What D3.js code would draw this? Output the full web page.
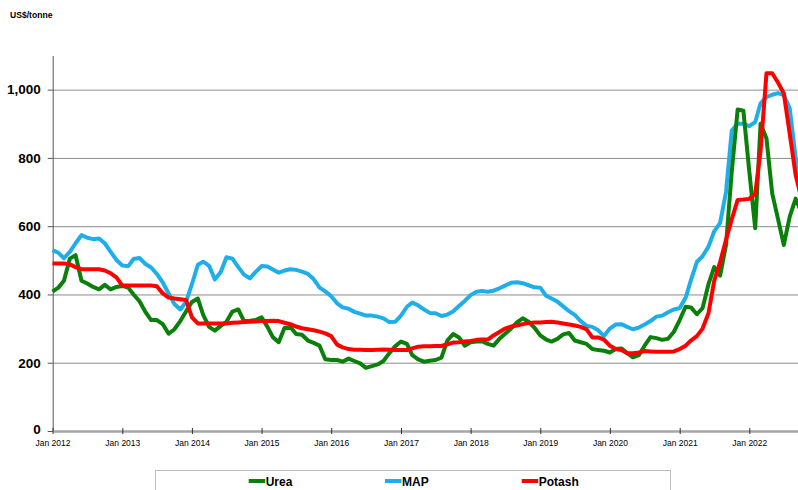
<!DOCTYPE html>
<html><head><meta charset="utf-8">
<script src="https://cdn.jsdelivr.net/npm/d3@7"></script>
<style>
body{margin:0;background:#fff;}
svg{display:block;font-family:"Liberation Sans",Arial,sans-serif;}
</style>
</head><body>
<svg id="chart" width="798" height="490"></svg>
<script>
// ---- data (monthly, starting Jan 2012) ----
const startYear = 2012;
const urea = [408,420,440,505,515,440,432,422,415,428,415,422,
  425,420,400,380,350,325,325,313,285,298,322,350,
  378,388,340,305,294,308,320,350,356,322,323,325,
  333,305,275,260,302,305,284,282,265,258,250,210,
  208,208,203,212,205,198,185,190,195,205,228,248,
  262,255,222,210,203,206,208,215,265,284,274,250,
  260,262,263,255,250,270,285,300,318,330,320,303,
  280,268,262,270,283,287,265,260,255,240,237,235,
  230,240,242,228,216,222,250,275,272,267,270,290,
  325,364,362,342,360,430,480,455,545,760,942,938,
  760,594,900,857,696,620,545,628,681,640];
const map = [530,522,506,525,550,574,566,562,564,550,525,501,
  485,483,504,507,490,479,460,435,403,372,356,378,
  430,487,496,484,444,466,509,505,480,458,447,466,
  483,482,473,464,470,474,472,467,460,445,420,409,
  395,374,362,358,349,344,338,338,335,330,319,320,
  338,364,376,368,356,346,345,337,341,350,366,381,
  398,408,410,408,411,418,426,434,436,433,427,421,
  420,396,388,379,365,351,340,322,308,305,295,278,
  300,312,313,305,298,303,312,322,335,338,348,356,
  360,390,442,495,512,540,585,610,700,880,900,900,
  893,905,960,978,985,990,984,945,800,700];
const potash = [491,491,491,488,480,474,474,474,474,470,462,450,
  426,426,426,426,426,426,424,403,391,388,386,384,
  333,315,315,315,315,315,315,317,318,319,320,321,
  322,322,323,322,317,313,306,301,298,295,291,286,
  278,253,245,240,238,238,237,237,238,239,238,237,
  237,237,242,247,248,248,249,249,254,259,260,262,
  264,267,268,268,280,290,300,306,309,313,316,318,
  318,319,320,318,315,312,309,305,298,274,274,268,
  250,240,237,228,228,230,234,233,232,232,232,233,
  240,250,265,278,300,345,440,495,560,620,677,678,
  680,695,820,1048,1048,1020,989,870,750,680];
const seriesNames = ["Urea","MAP","Potash"];
const yTicks = [0,200,400,600,800,1000];
const gridTicks = [200,400,600,800,1000];
const xTickYears = [2012,2013,2014,2015,2016,2017,2018,2019,2020,2021,2022];
const yLabel = "US$/tonne";

(function(){
const colors = {Urea:"#0a800a", MAP:"#1eaeea", Potash:"#ff0000"};
const W = 798;
const plotLeft = 52.7, plotBottom = 431, plotTop = 55.5;

const months = urea.map((_, i) => new Date(Date.UTC(startYear, i, 1)));
const x = d3.scaleUtc()
  .domain([new Date(Date.UTC(2012,0,1)), new Date(Date.UTC(2022,0,1))])
  .range([52.5, 749.3]);
const xAxisScale = x.copy().domain([x.domain()[0], x.invert(W)]).range([52.5, W]);
const y = d3.scaleLinear().domain([0,1100]).range([plotBottom, plotTop]);

const svg = d3.select("#chart");

svg.append("text").attr("x",10).attr("y",18)
  .attr("font-size","8.6px").attr("font-weight","bold").attr("fill","#000")
  .text(yLabel);

const grid = svg.append("g").attr("transform",`translate(${plotLeft},0)`)
  .call(d3.axisLeft(y).tickValues(gridTicks).tickSize(-(W-plotLeft)).tickFormat(""));
grid.select(".domain").remove();
grid.selectAll("line").attr("stroke","#8c8c8c").attr("stroke-width",1);

const ya = svg.append("g").attr("transform",`translate(${plotLeft},0)`)
  .call(d3.axisLeft(y).tickValues(yTicks).tickSize(5).tickSizeOuter(0).tickPadding(7)
    .tickFormat(d3.format(",")));
ya.select(".domain").attr("stroke","#555");
ya.selectAll("line").attr("stroke","#555");
ya.selectAll("text").attr("font-size","13.5px").attr("font-weight","bold")
  .attr("fill","#000").attr("font-family","Liberation Sans, Arial, sans-serif");
ya.selectAll(".tick").filter(d=>d===0).select("text").attr("dy","0.2em");

const line = d3.line().x((d,i)=>x(months[i])).y(d=>y(d));
const data = {Urea:urea, MAP:map, Potash:potash};
["MAP","Urea","Potash"].forEach(name=>{
  svg.append("path").datum(data[name])
    .attr("d", line).attr("fill","none")
    .attr("stroke", colors[name]).attr("stroke-width",4)
    .attr("stroke-linejoin","round").attr("stroke-linecap","butt");
});

const xa = svg.append("g").attr("transform",`translate(0,${plotBottom})`)
  .call(d3.axisBottom(xAxisScale)
    .tickValues(xTickYears.map(yr=>new Date(Date.UTC(yr,0,1))))
    .tickSize(3).tickSizeOuter(0).tickPadding(6)
    .tickFormat(d3.utcFormat("Jan %Y")));
xa.select(".domain").attr("stroke","#a6a6a6").attr("stroke-width",2.5);
xa.selectAll(".tick line").attr("y1",-3).attr("y2",3).attr("stroke","#333");
xa.selectAll("text").attr("font-size","8.5px").attr("fill","#000")
  .attr("font-family","Liberation Sans, Arial, sans-serif");

svg.append("rect").attr("x",155.5).attr("y",470.5).attr("width",515).attr("height",40)
  .attr("fill","none").attr("stroke","#bdbdbd").attr("stroke-width",1);
const legendX = [248.7, 385, 521.7];
seriesNames.forEach((name,i)=>{
  const g = svg.append("g").attr("transform",`translate(${legendX[i]},481)`);
  g.append("line").attr("x1",0).attr("x2",16.5).attr("y1",0).attr("y2",0)
    .attr("stroke",colors[name]).attr("stroke-width",4);
  g.append("text").attr("x",17).attr("y",4.5)
    .attr("font-size","12px").attr("font-weight","bold").attr("fill","#000")
    .text(name);
});
})();
</script>
</body></html>
